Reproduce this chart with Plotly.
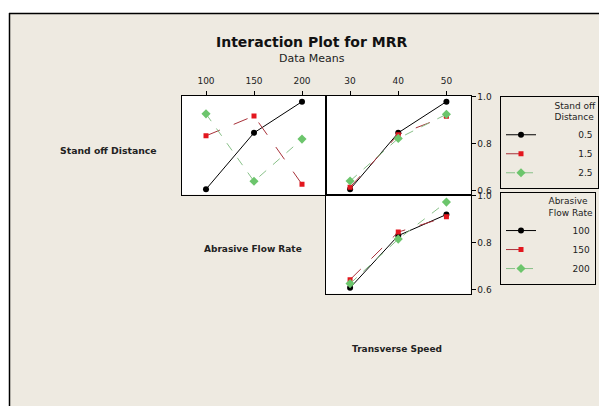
import plotly.graph_objects as go

# ---- data ----
flow_rate = [100, 150, 200]
speed = [30, 40, 50]
standoff_levels = ["0.5", "1.5", "2.5"]
flow_levels = ["100", "150", "200"]

# Stand off Distance traces vs Abrasive Flow Rate
sod_flow_05 = [0.605, 0.846, 0.979]
sod_flow_15 = [0.833, 0.918, 0.626]
sod_flow_25 = [0.927, 0.639, 0.819]
# Stand off Distance traces vs Transverse Speed
sod_speed_05 = [0.605, 0.846, 0.979]
sod_speed_15 = [0.614, 0.838, 0.917]
sod_speed_25 = [0.640, 0.822, 0.925]
# Abrasive Flow Rate traces vs Transverse Speed
flow_speed_100 = [0.607, 0.830, 0.920]
flow_speed_150 = [0.642, 0.845, 0.910]
flow_speed_200 = [0.625, 0.815, 0.973]

y_ticks = [0.6, 0.8, 1.0]
y_tick_text = ["0.6", "0.8", "1.0"]

# ---- styles ----
W, H = 599, 406
BG = "#EEEAE1"
FONT = "DejaVu Sans"
styles = [
    dict(line=dict(color="black", width=1, dash="solid"),
         marker=dict(symbol="circle", size=6, color="black")),
    dict(line=dict(color="#A8323A", width=1, dash="longdash"),
         marker=dict(symbol="square", size=5, color="#E3161E")),
    dict(line=dict(color="#88C088", width=1, dash="dash"),
         marker=dict(symbol="diamond", size=7, color="#6CC56C")),
]

def px(x):
    return x / W

def py(y):
    return (H - y) / H

def pad(s, n=13):
    return "\u00a0" * n + s

fig = go.Figure()

sod_flow = [sod_flow_05, sod_flow_15, sod_flow_25]
sod_speed = [sod_speed_05, sod_speed_15, sod_speed_25]
flow_speed = [flow_speed_100, flow_speed_150, flow_speed_200]

for i, lev in enumerate(standoff_levels):
    fig.add_trace(go.Scatter(x=flow_rate, y=sod_flow[i], mode="lines+markers",
                             name=pad(lev), legend="legend", showlegend=True,
                             xaxis="x", yaxis="y", **styles[i]))
for i, lev in enumerate(standoff_levels):
    fig.add_trace(go.Scatter(x=speed, y=sod_speed[i], mode="lines+markers",
                             name=pad(lev), showlegend=False,
                             xaxis="x2", yaxis="y2", **styles[i]))
for i, lev in enumerate(flow_levels):
    fig.add_trace(go.Scatter(x=speed, y=flow_speed[i], mode="lines+markers",
                             name=pad(lev, 11), legend="legend2", showlegend=True,
                             xaxis="x3", yaxis="y3", **styles[i]))

yr = [0.582, 1.005]
tickfont = dict(family=FONT, size=9, color="#222")
common = dict(showline=True, linecolor="black", linewidth=1, mirror=True,
              showgrid=False, zeroline=False, tickfont=tickfont,
              ticklen=4, tickcolor="black")

dom_x1 = [px(182), px(326)]
dom_x2 = [px(326), px(470.5)]
dom_y1 = [py(193), py(92.7)]
dom_y3 = [py(293.3), py(193)]

def ann(text, x, y, size, color="#222"):
    return dict(text=text, x=px(x), y=py(y), xref="paper", yref="paper",
                xanchor="center", yanchor="middle", showarrow=False,
                font=dict(family=FONT, size=size, color=color))

fig.update_layout(
    width=W, height=H,
    margin=dict(l=0, r=0, t=0, b=0),
    paper_bgcolor=BG,
    plot_bgcolor="white",
    font=dict(family=FONT, size=9, color="#222"),
    xaxis=dict(domain=dom_x1, anchor="y", range=[75, 225], side="top",
               tickvals=flow_rate, ticks="outside", ticklabelstandoff=3, **common),
    yaxis=dict(domain=dom_y1, anchor="x", range=yr, showticklabels=False,
               ticks="", **common),
    xaxis2=dict(domain=dom_x2, anchor="y2", range=[25, 55], side="top",
                tickvals=speed, ticks="outside", ticklabelstandoff=3, **common),
    yaxis2=dict(domain=dom_y1, anchor="x2", range=yr, side="right",
                tickvals=y_ticks, ticktext=y_tick_text, ticks="outside", **common),
    xaxis3=dict(domain=dom_x2, anchor="y3", range=[25, 55],
                showticklabels=False, ticks="", **common),
    yaxis3=dict(domain=dom_y3, anchor="x3", range=yr, side="right",
                tickvals=y_ticks, ticktext=y_tick_text, ticks="outside", **common),
    legend=dict(x=px(500), y=py(93), xanchor="left", yanchor="top",
                bgcolor="rgba(0,0,0,0)", bordercolor="black", borderwidth=1,
                font=dict(family=FONT, size=9, color="#222"),
                title=dict(text="Stand off<br>Distance", side="top right",
                           font=dict(family=FONT, size=9, color="#222")),
                itemwidth=30, tracegroupgap=0),
    legend2=dict(x=px(500), y=py(190), xanchor="left", yanchor="top",
                 bgcolor="rgba(0,0,0,0)", bordercolor="black", borderwidth=1,
                 font=dict(family=FONT, size=9, color="#222"),
                 title=dict(text="Abrasive<br>Flow Rate", side="top right",
                            font=dict(family=FONT, size=9, color="#222")),
                 itemwidth=30, tracegroupgap=0),
    shapes=[
        dict(type="rect", xref="paper", yref="paper", x0=-0.1, x1=1.1,
             y0=py(9), y1=1.1, line=dict(width=0), fillcolor="white", layer="below"),
        dict(type="rect", xref="paper", yref="paper", x0=-0.1, x1=px(9),
             y0=-0.1, y1=1.1, line=dict(width=0), fillcolor="white", layer="below"),
        dict(type="line", xref="paper", yref="paper", x0=px(9), x1=1.1,
             y0=py(9.5), y1=py(9.5), line=dict(color="black", width=1.5)),
        dict(type="line", xref="paper", yref="paper", x0=px(9.5), x1=px(9.5),
             y0=-0.1, y1=py(9), line=dict(color="black", width=1.5)),
    ],
    annotations=[
        ann("<b>Interaction Plot for MRR</b>", 311, 38, 14, "#111"),
        ann("Data Means", 312, 55, 11),
        ann("<b>Stand off Distance</b>", 108, 148, 9.3),
        ann("<b>Abrasive Flow Rate</b>", 253, 248, 9),
        ann("<b>Transverse Speed</b>", 397, 349, 9),
    ],
)

fig.write_html("out.html", config={"displayModeBar": False},
               post_script="document.body.style.margin='0';document.body.style.overflow='hidden';")
